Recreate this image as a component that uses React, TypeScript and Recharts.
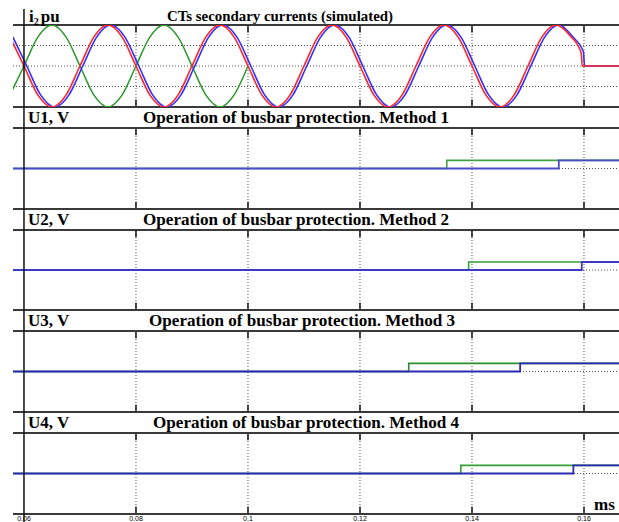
import React from "react";
import { LineChart, Line, XAxis, YAxis, ReferenceLine } from "recharts";

const W = 619;
const H = 522;
const PLOT_LEFT = 13;
const X_MIN = 0.05804;
const X_MAX = 0.16625;

const GRID_TICKS = [0.08, 0.1, 0.12, 0.14, 0.16];
const AXIS_LABELS = [0.06, 0.08, 0.1, 0.12, 0.14, 0.16];
const TOP_GRID_Y = [-0.5, 0, 0.5];

// CT secondary currents (pu)
const SINE_T = [
  0.0575, 0.06, 0.0625, 0.065, 0.0675, 0.07, 0.0725, 0.075, 0.0775, 0.08,
  0.0825, 0.085, 0.0875, 0.09, 0.0925, 0.095, 0.0975, 0.1, 0.1025, 0.105,
  0.1075, 0.11, 0.1125, 0.115, 0.1175, 0.12, 0.1225, 0.125, 0.1275, 0.13,
  0.1325, 0.135, 0.1375, 0.14, 0.1425, 0.145, 0.1475, 0.15, 0.1525, 0.155,
  0.1575, 0.1595, 0.1597, 0.1665,
];
const RED = [
  0.71, 0, -0.71, -1, -0.71, 0, 0.71, 1, 0.71, 0,
  -0.71, -1, -0.71, 0, 0.71, 1, 0.71, 0, -0.71, -1,
  -0.71, 0, 0.71, 1, 0.71, 0, -0.71, -1, -0.71, 0,
  0.71, 1, 0.71, 0, -0.71, -1, -0.71, 0, 0.71, 1,
  0.74, 0.32, 0, 0,
];
const BLUE_T = [
  0.058, 0.0605, 0.063, 0.0655, 0.068, 0.0705, 0.073, 0.0755, 0.078, 0.0805,
  0.083, 0.0855, 0.088, 0.0905, 0.093, 0.0955, 0.098, 0.1005, 0.103, 0.1055,
  0.108, 0.1105, 0.113, 0.1155, 0.118, 0.1205, 0.123, 0.1255, 0.128, 0.1305,
  0.133, 0.1355, 0.138, 0.1405, 0.143, 0.1455, 0.148, 0.1505, 0.153, 0.1555,
  0.158, 0.1599, 0.1601, 0.1665,
];
const BLUE = [
  0.71, 0, -0.71, -1, -0.71, 0, 0.71, 1, 0.71, 0,
  -0.71, -1, -0.71, 0, 0.71, 1, 0.71, 0, -0.71, -1,
  -0.71, 0, 0.71, 1, 0.71, 0, -0.71, -1, -0.71, 0,
  0.71, 1, 0.71, 0, -0.71, -1, -0.71, 0, 0.71, 1,
  0.71, 0.34, 0, 0,
];
const GREEN = [
  -0.71, 0, 0.71, 1, 0.71, 0, -0.71, -1, -0.71, 0,
  0.71, 1, 0.71, 0, -0.71, -1, -0.71, 0,
];

// busbar protection outputs
const PANEL_LABELS = ["U1, V", "U2, V", "U3, V", "U4, V"];
const PANEL_TITLES = [
  "Operation of busbar protection. Method 1",
  "Operation of busbar protection. Method 2",
  "Operation of busbar protection. Method 3",
  "Operation of busbar protection. Method 4",
];
const GREEN_TRIP = [0.1355, 0.1394, 0.1287, 0.138];
const BLUE_TRIP = [0.1555, 0.1596, 0.1486, 0.1581];
const TRIP_LEVEL = 0.2;

const FRAME = "#3a3a3a";
const GRID = "#505050";
const TICK = 0.18;
const SERIF = "'Liberation Serif', 'Times New Roman', serif";

const zip = (ts: number[], vs: number[]) => vs.map((v, i) => ({ t: ts[i], v }));
const redData = zip(SINE_T, RED);
const blueData = zip(BLUE_T, BLUE);
const greenData = zip(SINE_T, GREEN);

const stepData = (trip: number) => [
  { t: X_MIN, v: 0 },
  { t: trip, v: TRIP_LEVEL },
  { t: X_MAX, v: TRIP_LEVEL },
];

// panel layout: top of header band, plot height, title x
const PANELS = [
  { top: 107, plotH: 81, titleX: 143, blue: "#4a4ad0", green: "#45a045" },
  { top: 209, plotH: 80, titleX: 143, blue: "#3a3ac4", green: "#35a035" },
  { top: 310, plotH: 81, titleX: 149, blue: "#2a2ab4", green: "#2a8f2a" },
  { top: 412, plotH: 81, titleX: 153, blue: "#2a2ab4", green: "#35a035" },
];

function frame(extraY: number[]) {
  const out: React.ReactNode[] = [];
  extraY.forEach((y) => (
    out.push(<ReferenceLine key={"h" + y} y={y} stroke={GRID} strokeDasharray="1 2" />)
  ));
  GRID_TICKS.forEach((x) => {
    out.push(<ReferenceLine key={"v" + x} x={x} stroke={GRID} strokeDasharray="1 2" />);
    out.push(
      <ReferenceLine key={"tt" + x} segment={[{ x, y: 1 }, { x, y: 1 - TICK }]} stroke="#111" strokeWidth={1.5} />
    );
    out.push(
      <ReferenceLine key={"tb" + x} segment={[{ x, y: -1 }, { x, y: -1 + TICK }]} stroke="#111" strokeWidth={1.5} />
    );
  });
  out.push(<ReferenceLine key="top" y={1} stroke={FRAME} strokeWidth={2} />);
  out.push(<ReferenceLine key="bot" y={-1} stroke={FRAME} strokeWidth={2} />);
  return out;
}

function TimeTick(props: any) {
  const { x, y, payload } = props;
  return (
    <text x={x} y={y + 6} textAnchor="middle" fontSize={7} fill="#000" stroke="none"
      fontFamily="'Liberation Sans', Arial, sans-serif">
      {String(payload.value)}
    </text>
  );
}

const axisX = PLOT_LEFT + ((0.06 - X_MIN) / (X_MAX - X_MIN)) * (W - PLOT_LEFT);

export default function App() {
  return (
    <div style={{ position: "absolute", left: 0, top: 0, width: W, height: H, background: "#fff", overflow: "hidden" }}>
      <div style={{ position: "absolute", left: 0, top: 0 }}>
        <LineChart width={W} height={109} margin={{ top: 25, right: 0, bottom: 2, left: PLOT_LEFT }}>
          <XAxis type="number" dataKey="t" domain={[X_MIN, X_MAX]} allowDataOverflow hide />
          <YAxis type="number" domain={[-1, 1]} allowDataOverflow hide />
          {frame(TOP_GRID_Y)}
          <Line data={greenData} dataKey="v" type="monotone" stroke="#2e9a2e" strokeWidth={1.5} dot={false} isAnimationActive={false} />
          <Line data={blueData} dataKey="v" type="monotone" stroke="#3030ff" strokeWidth={1.6} dot={false} isAnimationActive={false} />
          <Line data={redData} dataKey="v" type="monotone" stroke="#ff2626" strokeWidth={1.6} dot={false} isAnimationActive={false} />
        </LineChart>
      </div>

      {PANELS.map((p, i) => {
        const last = i === PANELS.length - 1;
        return (
          <div key={i} style={{ position: "absolute", left: 0, top: p.top }}>
            <LineChart
              width={W}
              height={21 + p.plotH + (last ? 8 : 2)}
              margin={{ top: 21, right: 0, bottom: last ? 0 : 2, left: PLOT_LEFT }}
            >
              <XAxis
                type="number"
                dataKey="t"
                domain={[X_MIN, X_MAX]}
                allowDataOverflow
                hide={!last}
                height={8}
                ticks={AXIS_LABELS}
                interval={0}
                tickSize={0}
                tickMargin={1}
                tickLine={false}
                axisLine={false}
                tick={<TimeTick />}
              />
              <YAxis type="number" domain={[-1, 1]} allowDataOverflow hide />
              {frame([0])}
              <Line data={stepData(GREEN_TRIP[i])} dataKey="v" type="stepAfter" stroke={p.green} strokeWidth={1.6} dot={false} isAnimationActive={false} />
              <Line data={stepData(BLUE_TRIP[i])} dataKey="v" type="stepAfter" stroke={p.blue} strokeWidth={1.8} dot={false} isAnimationActive={false} />
            </LineChart>
          </div>
        );
      })}

      <svg width={W} height={H} style={{ position: "absolute", left: 0, top: 0, pointerEvents: "none" }}>
        <line x1={axisX} x2={axisX} y1={9} y2={H} stroke="#111" strokeWidth={1.5} />
        <text x={29} y={22} fontFamily={SERIF} fontWeight="bold" fontSize={17} fill="#000">
          i<tspan fontSize={10} dy={3}>2</tspan>
          <tspan dy={-3} dx={2}>pu</tspan>
        </text>
        <text x={167} y={21} fontFamily={SERIF} fontWeight="bold" fontSize={14} textLength={226} lengthAdjust="spacingAndGlyphs" fill="#000">
          CTs secondary currents (simulated)
        </text>
        {PANELS.map((p, i) => (
          <g key={i}>
            <text x={28} y={p.top + 16} fontFamily={SERIF} fontWeight="bold" fontSize={17} fill="#000">
              {PANEL_LABELS[i]}
            </text>
            <text x={p.titleX} y={p.top + 16} fontFamily={SERIF} fontWeight="bold" fontSize={17} textLength={306} lengthAdjust="spacingAndGlyphs" fill="#000">
              {PANEL_TITLES[i]}
            </text>
          </g>
        ))}
        <text x={594} y={510} fontFamily={SERIF} fontWeight="bold" fontSize={17} fill="#000">
          ms
        </text>
      </svg>
    </div>
  );
}
